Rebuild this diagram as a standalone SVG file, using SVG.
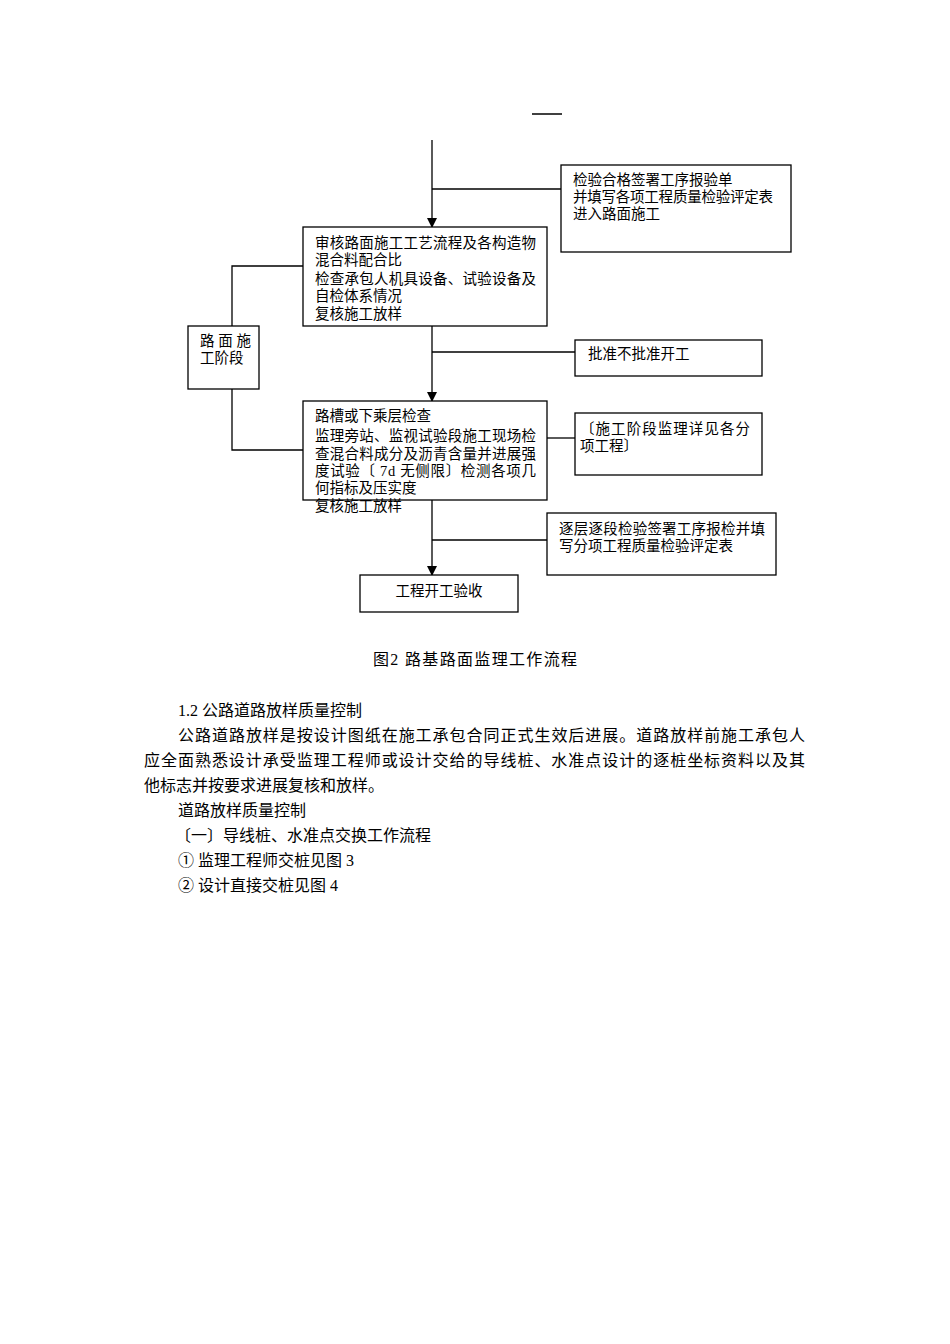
<svg xmlns="http://www.w3.org/2000/svg" width="950" height="1344" viewBox="0 0 950 1344">
<style>
.box{fill:#fff;stroke:#000;stroke-width:1.3}
.ln{fill:none;stroke:#000;stroke-width:1.3}
.t{font-family:"Liberation Serif","Noto Sans CJK SC",serif;font-size:14.5px;fill:#000}
.b{font-family:"Liberation Serif","Noto Sans CJK SC",serif;font-size:16px;fill:#000}
</style>
<defs>
<marker id="ah" markerWidth="10" markerHeight="10" refX="9" refY="5" orient="auto" markerUnits="userSpaceOnUse">
<path d="M0,0 L10,5 L0,10 Z" fill="#000"/>
</marker>
</defs>
<rect width="950" height="1344" fill="#fff"/>
<line x1="532" y1="114" x2="562" y2="114" stroke="#000" stroke-width="1.5"/>
<g id="connectors">
<line class="ln" x1="432" y1="140" x2="432" y2="227" marker-end="url(#ah)"/>
<line class="ln" x1="432" y1="189" x2="561" y2="189"/>
<line class="ln" x1="432" y1="326" x2="432" y2="401" marker-end="url(#ah)"/>
<line class="ln" x1="432" y1="352" x2="575" y2="352"/>
<line class="ln" x1="432" y1="500" x2="432" y2="575" marker-end="url(#ah)"/>
<line class="ln" x1="432" y1="540" x2="547" y2="540"/>
<polyline class="ln" points="303,266 232,266 232,326"/>
<polyline class="ln" points="232,389 232,450 303,450"/>
<line class="ln" x1="547" y1="438" x2="575" y2="438"/>
</g>
<g id="n_pass">
<rect class="box" x="561" y="165" width="230" height="87"/>
<text class="t" x="573" y="185">检验合格签署工序报验单</text>
<text class="t" x="573" y="202" textLength="200" lengthAdjust="spacing">并填写各项工程质量检验评定表</text>
<text class="t" x="573" y="219">进入路面施工</text>
</g>
<g id="n_review">
<rect class="box" x="303" y="227" width="244" height="99"/>
<text class="t" x="315" y="248" textLength="221" lengthAdjust="spacing">审核路面施工工艺流程及各构造物</text>
<text class="t" x="315" y="265">混合料配合比</text>
<text class="t" x="315" y="284" textLength="221" lengthAdjust="spacing">检查承包人机具设备、试验设备及</text>
<text class="t" x="315" y="301">自检体系情况</text>
<text class="t" x="315" y="319">复核施工放样</text>
</g>
<g id="n_stage">
<rect class="box" x="188" y="326" width="71" height="63"/>
<text class="t" x="200" y="346" textLength="51" lengthAdjust="spacing">路面施</text>
<text class="t" x="200" y="363">工阶段</text>
</g>
<g id="n_approve">
<rect class="box" x="575" y="340" width="187" height="36"/>
<text class="t" x="588" y="359">批准不批准开工</text>
</g>
<g id="n_check">
<rect class="box" x="303" y="401" width="244" height="99"/>
<text class="t" x="315" y="421">路槽或下乘层检查</text>
<text class="t" x="315" y="441" textLength="221" lengthAdjust="spacing">监理旁站、监视试验段施工现场检</text>
<text class="t" x="315" y="459" textLength="221" lengthAdjust="spacing">查混合料成分及沥青含量并进展强</text>
<text class="t" x="315" y="476" textLength="221" lengthAdjust="spacing">度试验〔 7d 无侧限〕检测各项几</text>
<text class="t" x="315" y="493">何指标及压实度</text>
<text class="t" x="315" y="511">复核施工放样</text>
</g>
<g id="n_detail">
<rect class="box" x="575" y="413" width="187" height="62"/>
<text class="t" x="580" y="434" textLength="170" lengthAdjust="spacing">〔施工阶段监理详见各分</text>
<text class="t" x="580" y="451">项工程〕</text>
</g>
<g id="n_layer">
<rect class="box" x="547" y="513" width="229" height="62"/>
<text class="t" x="559" y="534" textLength="206" lengthAdjust="spacing">逐层逐段检验签署工序报检并填</text>
<text class="t" x="559" y="551">写分项工程质量检验评定表</text>
</g>
<g id="n_accept">
<rect class="box" x="360" y="575" width="158" height="37"/>
<text class="t" x="439" y="596" text-anchor="middle">工程开工验收</text>
</g>
<text class="b" x="373" y="665" textLength="204" lengthAdjust="spacing">图2  路基路面监理工作流程</text>
<text class="b" x="178" y="716">1.2  公路道路放样质量控制</text>
<text class="b" x="178" y="741" textLength="627" lengthAdjust="spacing">公路道路放样是按设计图纸在施工承包合同正式生效后进展。道路放样前施工承包人</text>
<text class="b" x="144" y="766" textLength="661" lengthAdjust="spacing">应全面熟悉设计承受监理工程师或设计交给的导线桩、水准点设计的逐桩坐标资料以及其</text>
<text class="b" x="144" y="791">他标志并按要求进展复核和放样。</text>
<text class="b" x="178" y="816">道路放样质量控制</text>
<text class="b" x="175" y="841">〔一〕导线桩、水准点交换工作流程</text>
<text class="b" x="178" y="866">① 监理工程师交桩见图 3</text>
<text class="b" x="178" y="891">② 设计直接交桩见图 4</text>
</svg>
